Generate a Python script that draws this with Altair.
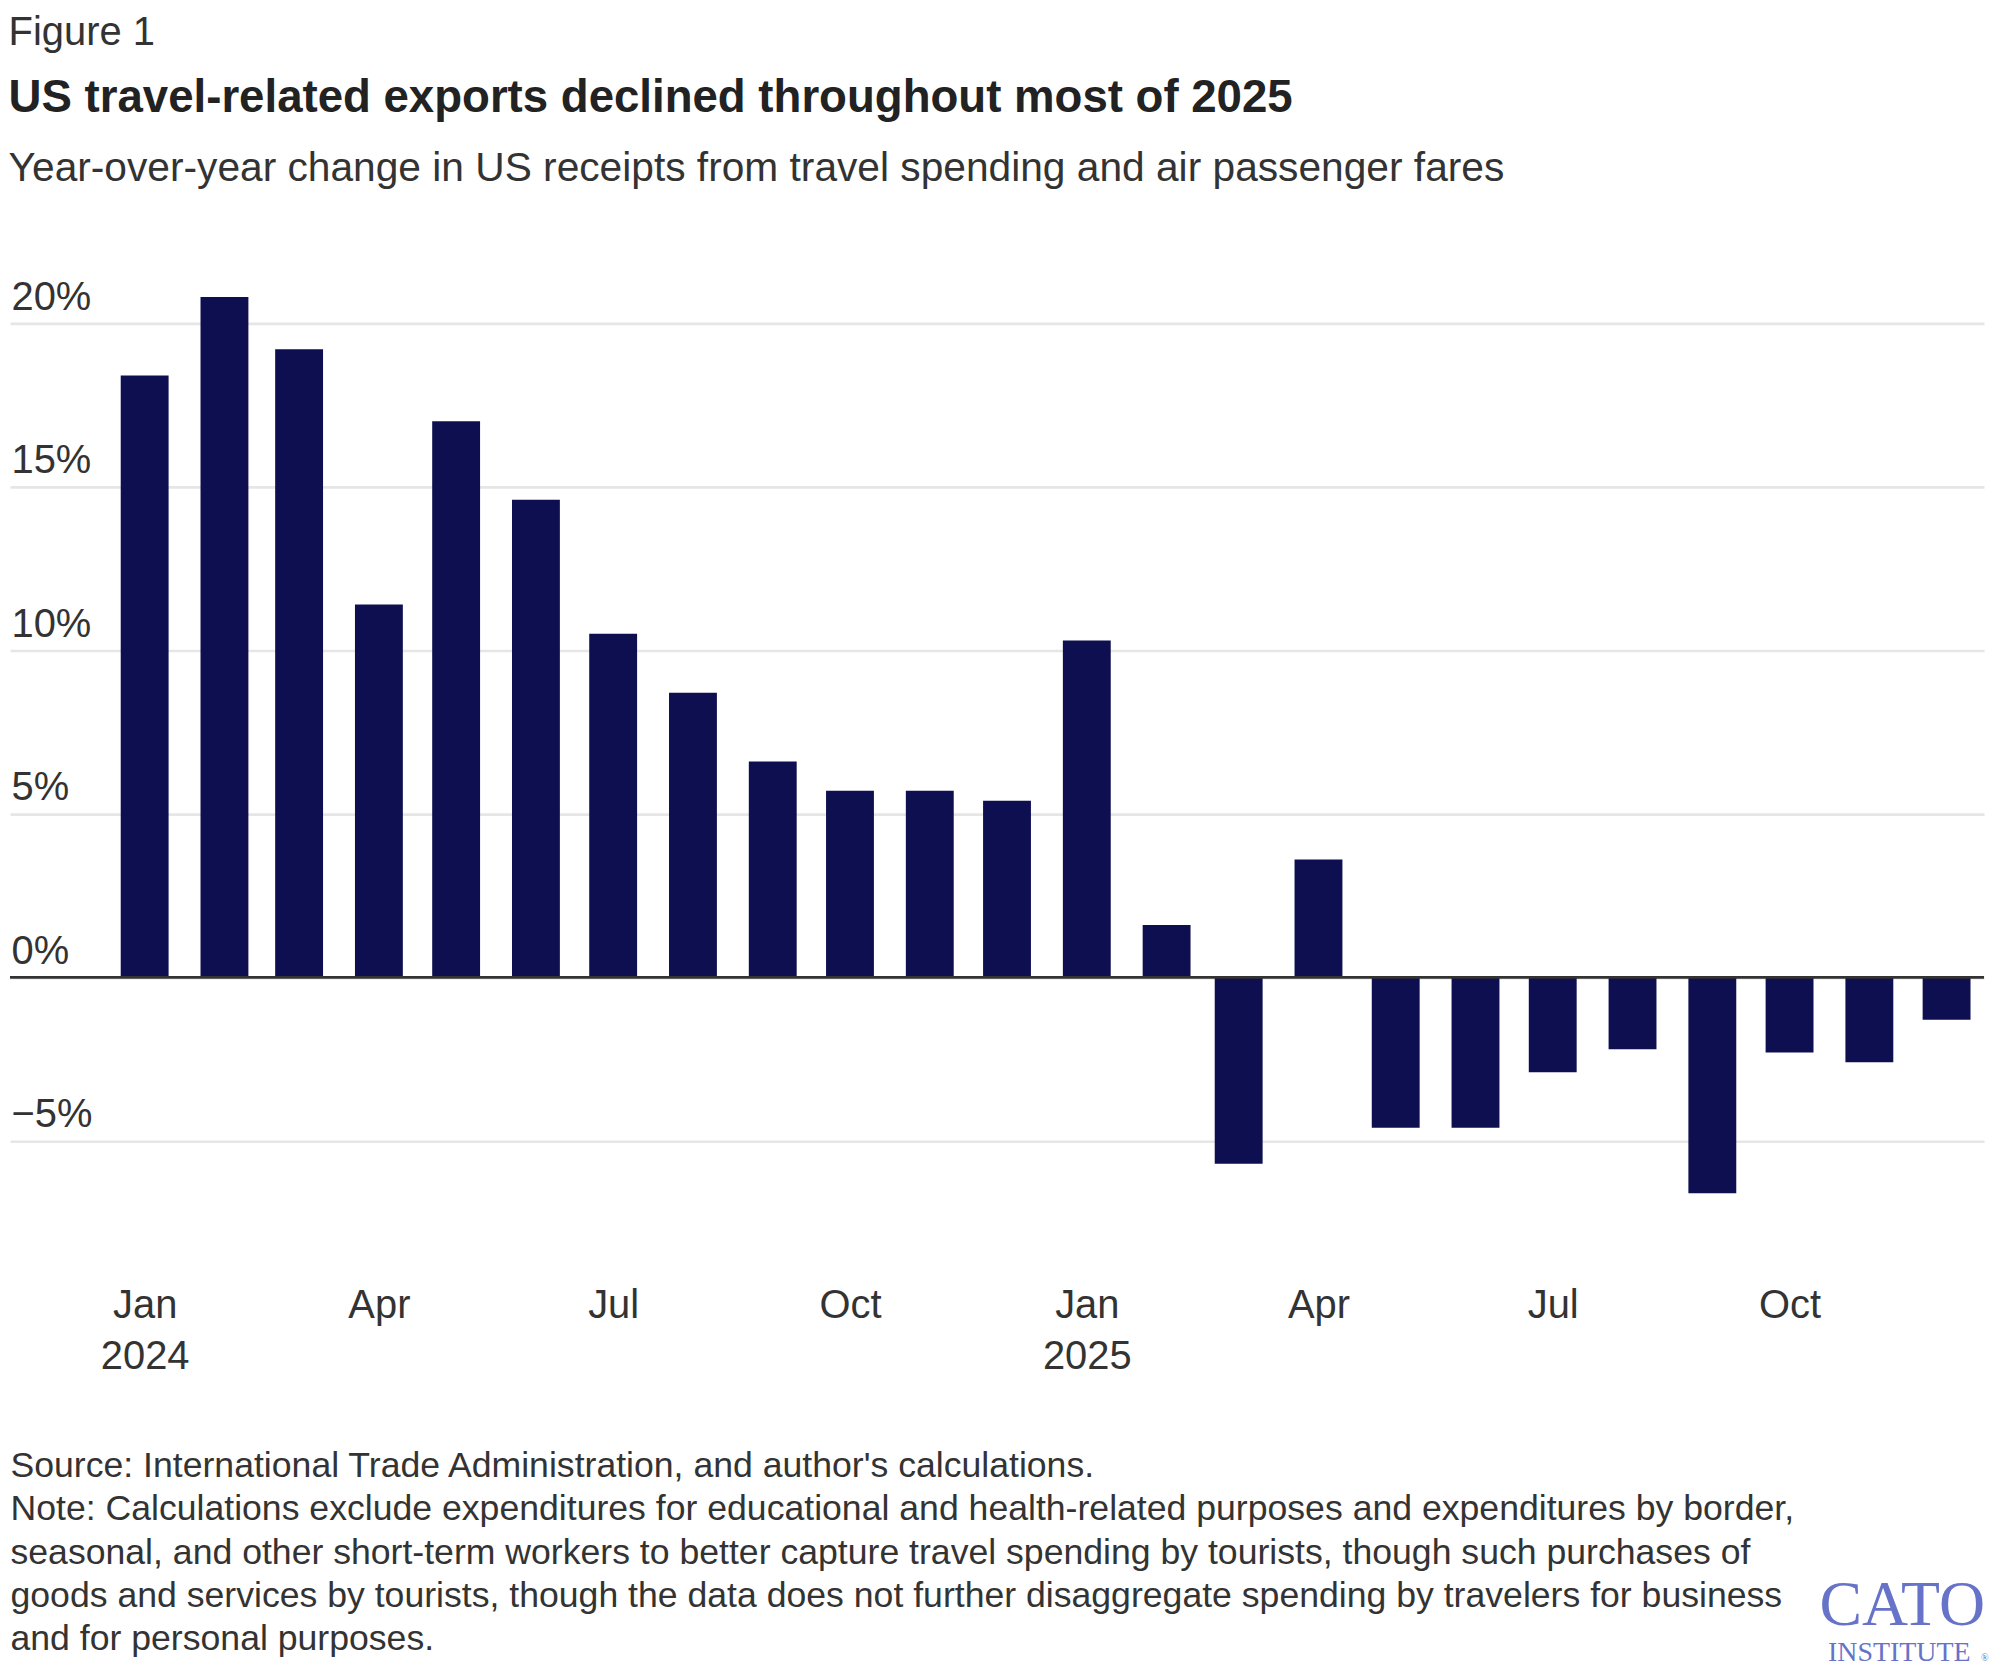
import altair as alt
import pandas as pd

# ---- data ----
months = [
    "2024-01-01", "2024-02-01", "2024-03-01", "2024-04-01", "2024-05-01", "2024-06-01",
    "2024-07-01", "2024-08-01", "2024-09-01", "2024-10-01", "2024-11-01", "2024-12-01",
    "2025-01-01", "2025-02-01", "2025-03-01", "2025-04-01", "2025-05-01", "2025-06-01",
    "2025-07-01", "2025-08-01", "2025-09-01", "2025-10-01", "2025-11-01", "2025-12-01",
]
yoy_change = [
    18.4, 20.8, 19.2, 11.4, 17.0, 14.6, 10.5, 8.7, 6.6, 5.7, 5.7, 5.4,
    10.3, 1.6, -5.7, 3.6, -4.6, -4.6, -2.9, -2.2, -6.6, -2.3, -2.6, -1.3,
]
x_tick_months = [(2024, 1), (2024, 4), (2024, 7), (2024, 10), (2025, 1), (2025, 4), (2025, 7), (2025, 10)]
y_ticks = [-5, 0, 5, 10, 15, 20]

figure_label = "Figure 1"
title_text = "US travel-related exports declined throughout most of 2025"
subtitle_text = "Year-over-year change in US receipts from travel spending and air passenger fares"
footer_lines = [
    "Source: International Trade Administration, and author's calculations.",
    "Note: Calculations exclude expenditures for educational and health-related purposes and expenditures by border,",
    "seasonal, and other short-term workers to better capture travel spending by tourists, though such purchases of",
    "goods and services by tourists, though the data does not further disaggregate spending by travelers for business",
    "and for personal purposes.",
]
logo_main = ["CATO"]
logo_sub = ["INSTITUTE"]
logo_mark = ["®"]

FONT = "Liberation Sans"
BAR = "#0e0f50"
TEXT = "#333333"
LOGO = "#6673c9"

df = pd.DataFrame({"month": months, "value": yoy_change})
zero_df = pd.DataFrame({"value": [0]})

PLOT_W = 1979
PLOT_H = 951

x_scale = alt.Scale(
    type="utc",
    padding=0,
    domain=[
        alt.DateTime(year=2023, month=11, date=9, hours=16, minutes=30, utc=True),
        alt.DateTime(year=2025, month=12, date=15, hours=13, utc=True),
    ],
)
y_scale = alt.Scale(domain=[-8, 21], nice=False, zero=False)

x_axis = alt.Axis(
    values=[alt.DateTime(year=y, month=m, date=1, utc=True) for (y, m) in x_tick_months],
    labelExpr="utcmonth(datum.value) == 0 ? [utcFormat(datum.value, '%b'), utcFormat(datum.value, '%Y')] : utcFormat(datum.value, '%b')",
    domain=False,
    ticks=False,
    tickSize=0,
    grid=False,
    labelPadding=47,
    labelFontSize=40,
    labelLineHeight=51,
    labelBaseline="top",
    labelColor=TEXT,
    labelFont=FONT,
    labelOverlap=False,
    labelFlush=False,
    title=footer_lines,
    titleFont=FONT,
    titleFontSize=35.7,
    titleFontWeight="normal",
    titleColor=TEXT,
    titleAlign="left",
    titleAnchor="start",
    titleBaseline="alphabetic",
    titleX=0,
    titleY=238,
    titleLineHeight=43.5,
)

y_axis = alt.Axis(
    values=y_ticks,
    labelExpr="format(datum.value, 'd') + '%'",
    domain=False,
    ticks=False,
    tickSize=0,
    grid=True,
    gridColor="#e6e6e6",
    gridWidth=2.7,
    labelAlign="left",
    labelBaseline="alphabetic",
    labelPadding=-1,
    labelOffset=-14,
    labelFontSize=40,
    labelColor=TEXT,
    labelFont=FONT,
    title=None,
)

bars = alt.Chart(df).mark_bar(size=48, color=BAR).encode(
    x=alt.X("month:T", scale=x_scale, axis=x_axis),
    y=alt.Y("value:Q", scale=y_scale, axis=y_axis),
)

zero_rule = alt.Chart(zero_df).mark_rule(color="#333333", strokeWidth=2.8).encode(
    y=alt.Y("value:Q")
)

logo1 = alt.Chart(pd.DataFrame({"t": logo_main})).mark_text(
    font="Liberation Serif", fontSize=64, color=LOGO, align="center", baseline="alphabetic"
).encode(text="t:N", x=alt.value(1897), y=alt.value(1338))

logo2 = alt.Chart(pd.DataFrame({"t": logo_sub})).mark_text(
    font="Liberation Serif", fontSize=28, color=LOGO, align="center", baseline="alphabetic"
).encode(text="t:N", x=alt.value(1894), y=alt.value(1374))

logo3 = alt.Chart(pd.DataFrame({"t": logo_mark})).mark_text(
    font="Liberation Serif", fontSize=10, color=LOGO, align="left", baseline="alphabetic"
).encode(text="t:N", x=alt.value(1976), y=alt.value(1374))

main = alt.layer(bars, zero_rule, logo1, logo2, logo3).properties(
    width=PLOT_W,
    height=PLOT_H,
    title=alt.TitleParams(
        text=title_text,
        subtitle=subtitle_text,
        anchor="start",
        font=FONT,
        fontSize=45.7,
        fontWeight="bold",
        color="#222222",
        subtitleFont=FONT,
        subtitleFontSize=40.8,
        subtitleColor=TEXT,
        subtitlePadding=27,
        offset=88,
    ),
)

chart = alt.vconcat(main).properties(
    title=alt.TitleParams(
        text=figure_label,
        anchor="start",
        font=FONT,
        fontSize=40,
        fontWeight="normal",
        color=TEXT,
        offset=22.5,
    ),
    padding={"left": 0, "top": 2, "right": 0, "bottom": 0},
).configure(font=FONT, background="white").configure_view(stroke=None)

chart.save("out.html", embed_options={"renderer": "svg", "actions": False})
